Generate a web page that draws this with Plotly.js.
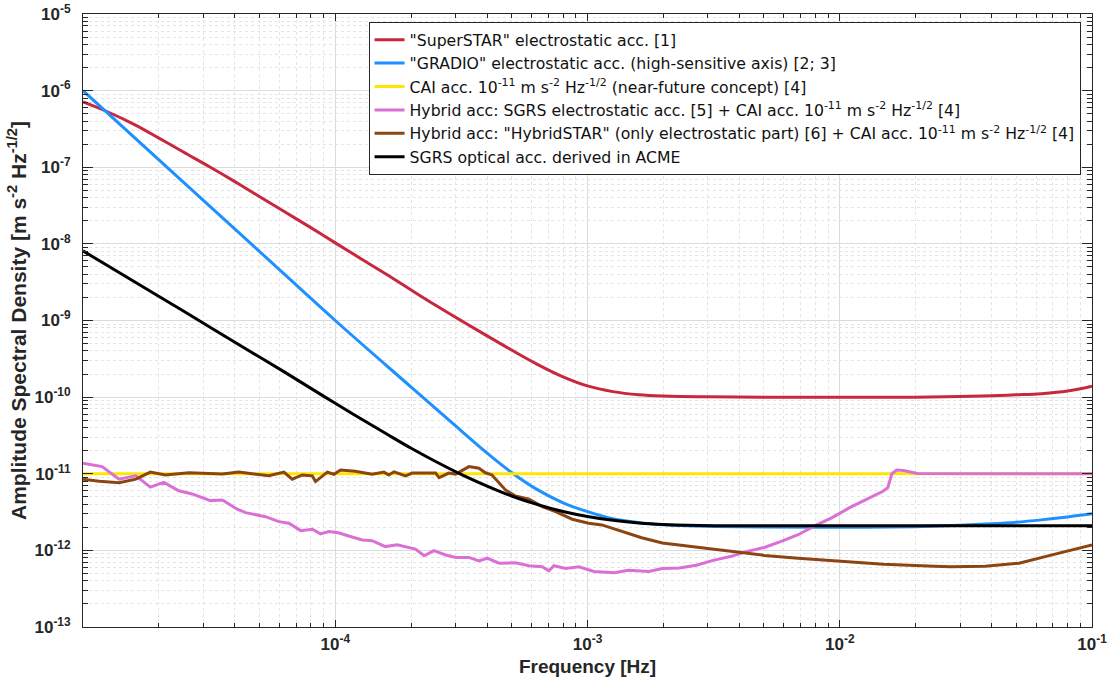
<!DOCTYPE html>
<html>
<head>
<meta charset="utf-8">
<script src="https://cdn.plot.ly/plotly-3.0.1.min.js"></script>
<style>html,body{margin:0;padding:0;background:#fff;}#chart{width:1113px;height:683px;}</style>
</head>
<body>
<div id="chart"></div>
<script>
// ---- Data ----
const freqSuperSTAR = [1e-5, 1.25e-5, 1.6e-5, 2e-5, 2.5e-5, 3.2e-5, 4e-5, 5e-5, 6.3e-5, 8e-5, 1e-4, 1.26e-4, 1.6e-4, 2e-4, 2.5e-4, 3.2e-4, 4e-4, 5e-4, 6.3e-4, 8e-4, 1e-3, 1.26e-3, 1.6e-3, 2e-3, 3e-3, 5e-3, 1e-2, 2e-2, 3e-2, 4e-2, 5e-2, 6.3e-2, 8e-2, 1e-1];
const asdSuperSTAR  = [7.1e-7, 5.3e-7, 3.6e-7, 2.4e-7, 1.58e-7, 1.0e-7, 6.5e-8, 4.16e-8, 2.62e-8, 1.63e-8, 1.03e-8, 6.45e-9, 3.98e-9, 2.5e-9, 1.58e-9, 9.7e-10, 6.3e-10, 4.12e-10, 2.7e-10, 1.84e-10, 1.4e-10, 1.18e-10, 1.075e-10, 1.035e-10, 1.01e-10, 1.0e-10, 1.0e-10, 1.0e-10, 1.02e-10, 1.04e-10, 1.07e-10, 1.11e-10, 1.2e-10, 1.39e-10];

const freqGRADIO = [1e-5, 2e-5, 5e-5, 1e-4, 2e-4, 3e-4, 4e-4, 5e-4, 6.3e-4, 8e-4, 1e-3, 1.26e-3, 1.6e-3, 2e-3, 2.5e-3, 3.2e-3, 5e-3, 1e-2, 2e-2, 3e-2, 4e-2, 5e-2, 6.3e-2, 8e-2, 1e-1];
const asdGRADIO  = [1.0e-6, 1.25e-7, 8.0e-9, 1.0e-9, 1.35e-10, 4.2e-11, 1.86e-11, 1.04e-11, 6.25e-12, 4.18e-12, 3.2e-12, 2.58e-12, 2.3e-12, 2.16e-12, 2.09e-12, 2.05e-12, 2.02e-12, 2.0e-12, 2.04e-12, 2.12e-12, 2.22e-12, 2.33e-12, 2.5e-12, 2.73e-12, 3.0e-12];

const freqCAI = [1e-5, 1e-1];
const asdCAI  = [1e-11, 1e-11];

const freqHybridSGRS = [1e-5, 1.19e-5, 1.39e-5, 1.62e-5, 1.85e-5, 2.09e-5, 2.40e-5, 2.71e-5, 3.20e-5, 3.57e-5, 4.09e-5, 4.41e-5, 5.29e-5, 5.98e-5, 6.55e-5, 7.29e-5, 8.11e-5, 8.74e-5, 9.44e-5, 1.03e-4, 1.13e-4, 1.28e-4, 1.40e-4, 1.58e-4, 1.76e-4, 2.08e-4, 2.25e-4, 2.46e-4, 2.74e-4, 3.00e-4, 3.39e-4, 3.71e-4, 4.00e-4, 4.46e-4, 5.18e-4, 5.86e-4, 6.61e-4, 7.03e-4, 7.36e-4, 8.18e-4, 9.25e-4, 1.01e-3, 1.06e-3, 1.28e-3, 1.45e-3, 1.75e-3, 1.98e-3, 2.31e-3, 2.70e-3, 3.15e-3, 3.68e-3, 4.30e-3, 5.02e-3, 5.86e-3, 6.84e-3, 7.99e-3, 9.33e-3, 1.09e-2, 1.27e-2, 1.49e-2, 1.55e-2, 1.61e-2, 1.68e-2, 1.79e-2, 2.03e-2, 3e-2, 5e-2, 1e-1];
const asdHybridSGRS  = [1.37e-11, 1.24e-11, 8.5e-12, 9.4e-12, 6.7e-12, 7.7e-12, 6.0e-12, 5.45e-12, 4.46e-12, 4.55e-12, 3.44e-12, 3.11e-12, 2.75e-12, 2.37e-12, 2.26e-12, 1.81e-12, 1.89e-12, 1.64e-12, 1.76e-12, 1.70e-12, 1.54e-12, 1.37e-12, 1.34e-12, 1.12e-12, 1.18e-12, 1.04e-12, 8.5e-13, 9.9e-13, 8.7e-13, 8.1e-13, 8.1e-13, 7.3e-13, 7.9e-13, 6.8e-13, 6.9e-13, 6.3e-13, 6.1e-13, 5.4e-13, 6.3e-13, 5.8e-13, 6.1e-13, 5.6e-13, 5.3e-13, 5.1e-13, 5.5e-13, 5.3e-13, 5.8e-13, 5.9e-13, 6.4e-13, 7.4e-13, 8.3e-13, 9.7e-13, 1.09e-12, 1.31e-12, 1.6e-12, 2.1e-12, 2.68e-12, 3.58e-12, 4.62e-12, 5.96e-12, 6.6e-12, 1.0e-11, 1.12e-11, 1.10e-11, 1.01e-11, 1.0e-11, 1.0e-11, 1.0e-11];

const freqHybridSTAR = [1e-5, 1.16e-5, 1.39e-5, 1.62e-5, 1.85e-5, 2.12e-5, 2.63e-5, 3.57e-5, 4.15e-5, 4.83e-5, 5.46e-5, 6.26e-5, 6.75e-5, 7.40e-5, 8.11e-5, 8.35e-5, 9.30e-5, 9.88e-5, 1.05e-4, 1.20e-4, 1.40e-4, 1.56e-4, 1.63e-4, 1.71e-4, 1.90e-4, 2.02e-4, 2.50e-4, 2.58e-4, 2.82e-4, 3.00e-4, 3.39e-4, 3.71e-4, 3.94e-4, 4.18e-4, 4.46e-4, 4.73e-4, 5.18e-4, 5.86e-4, 6.61e-4, 7.47e-4, 8.70e-4, 1.01e-3, 1.14e-3, 1.36e-3, 1.64e-3, 1.98e-3, 2.70e-3, 3.68e-3, 5.02e-3, 6.84e-3, 9.93e-3, 1.49e-2, 2.37e-2, 2.76e-2, 3.77e-2, 5.14e-2, 7.01e-2, 9.29e-2, 1e-1];
const asdHybridSTAR  = [8.5e-12, 8.0e-12, 7.65e-12, 8.5e-12, 1.05e-11, 9.65e-12, 1.03e-11, 9.9e-12, 1.05e-11, 9.9e-12, 9.4e-12, 1.05e-11, 8.5e-12, 9.65e-12, 9.4e-12, 7.9e-12, 1.05e-11, 9.85e-12, 1.12e-11, 1.08e-11, 9.85e-12, 1.05e-11, 9.65e-12, 1.06e-11, 9.4e-12, 1.02e-11, 1.02e-11, 8.9e-12, 1.02e-11, 9.9e-12, 1.24e-11, 1.18e-11, 1.03e-11, 9.65e-12, 7.5e-12, 6.15e-12, 5.13e-12, 4.65e-12, 3.72e-12, 3.2e-12, 2.55e-12, 2.26e-12, 2.15e-12, 1.78e-12, 1.46e-12, 1.25e-12, 1.1e-12, 9.8e-13, 8.6e-13, 7.9e-13, 7.2e-13, 6.6e-13, 6.2e-13, 6.1e-13, 6.2e-13, 6.8e-13, 8.8e-13, 1.12e-12, 1.18e-12];

const freqSGRSOptical = [1e-5, 1.6e-5, 2.5e-5, 4e-5, 6.3e-5, 1e-4, 1.6e-4, 2e-4, 2.5e-4, 3.2e-4, 4e-4, 5e-4, 6.3e-4, 8e-4, 1e-3, 1.26e-3, 1.6e-3, 2e-3, 2.5e-3, 3.2e-3, 5e-3, 1e-2, 3e-2, 1e-1];
const asdSGRSOptical  = [8.1e-9, 3.2e-9, 1.33e-9, 5.2e-10, 2.12e-10, 8.3e-11, 3.3e-11, 2.15e-11, 1.445e-11, 9.6e-12, 6.9e-12, 5.12e-12, 3.98e-12, 3.22e-12, 2.77e-12, 2.47e-12, 2.27e-12, 2.17e-12, 2.12e-12, 2.1e-12, 2.1e-12, 2.1e-12, 2.1e-12, 2.1e-12];

const seriesNames = [
  '"SuperSTAR" electrostatic acc. [1]',
  '"GRADIO" electrostatic acc. (high-sensitive axis) [2; 3]',
  'CAI acc. 10<sup>-11</sup> m s<sup>-2</sup> Hz<sup>-1/2</sup> (near-future concept) [4]',
  'Hybrid acc: SGRS electrostatic acc. [5] + CAI acc. 10<sup>-11</sup> m s<sup>-2</sup> Hz<sup>-1/2</sup> [4]',
  'Hybrid acc: "HybridSTAR" (only electrostatic part) [6] + CAI acc. 10<sup>-11</sup> m s<sup>-2</sup> Hz<sup>-1/2</sup> [4]',
  'SGRS optical acc. derived in ACME'
];
const seriesColors = ['#C8283E', '#1E90FF', '#FFE600', '#DA70D6', '#8B4513', '#000000'];

const xTickVals = [1e-4, 1e-3, 1e-2, 1e-1];
const xTickText = ['10<sup>-4</sup>', '10<sup>-3</sup>', '10<sup>-2</sup>', '10<sup>-1</sup>'];
const yTickVals = [1e-13, 1e-12, 1e-11, 1e-10, 1e-9, 1e-8, 1e-7, 1e-6, 1e-5];
const yTickText = ['10<sup>-13</sup>', '10<sup>-12</sup>', '10<sup>-11</sup>', '10<sup>-10</sup>', '10<sup>-9</sup>', '10<sup>-8</sup>', '10<sup>-7</sup>', '10<sup>-6</sup>', '10<sup>-5</sup>'];

// minor tick positions (2..9 in each decade)
function minorTicks(d0, d1) {
  const out = [];
  for (let d = d0; d < d1; d++) for (let k = 2; k <= 9; k++) out.push(k * Math.pow(10, d));
  return out;
}

const xs = [freqSuperSTAR, freqGRADIO, freqCAI, freqHybridSGRS, freqHybridSTAR, freqSGRSOptical];
const ys = [asdSuperSTAR, asdGRADIO, asdCAI, asdHybridSGRS, asdHybridSTAR, asdSGRSOptical];
const smooth = [true, true, false, false, false, true];

const traces = xs.map((x, i) => ({
  x: x, y: ys[i], type: 'scatter', mode: 'lines', name: seriesNames[i],
  line: {color: seriesColors[i], width: 3, shape: smooth[i] ? 'spline' : 'linear', smoothing: 1}
}));

const fontFam = 'Liberation Sans, Arial, Helvetica, sans-serif';
const axisCommon = {
  type: 'log', showline: true, linecolor: '#262626', linewidth: 1, mirror: 'ticks',
  ticks: 'inside', tickcolor: '#262626', tickwidth: 1,
  showgrid: true, gridcolor: '#dcdcdc', gridwidth: 1, zeroline: false,
  tickfont: {family: fontFam, size: 17, color: '#262626', weight: 'bold'}
};

const layout = {
  width: 1113, height: 683,
  margin: {l: 83, r: 21, t: 14, b: 56},
  paper_bgcolor: '#ffffff', plot_bgcolor: '#ffffff',
  showlegend: true,
  xaxis: Object.assign({}, axisCommon, {
    range: [-5, -1], tickmode: 'array', tickvals: xTickVals, ticktext: xTickText, ticklen: 7,
    ticklabelstandoff: 2,
    minor: {tickmode: 'array', tickvals: minorTicks(-5, -1), ticks: 'inside', ticklen: 4, tickcolor: '#262626',
            showgrid: true, gridcolor: '#e4e4e4', griddash: 'dot', gridwidth: 1},
    title: {text: 'Frequency [Hz]', font: {family: fontFam, size: 19, color: '#262626', weight: 'bold'}, standoff: 6}
  }),
  yaxis: Object.assign({}, axisCommon, {
    range: [-13, -5], tickmode: 'array', tickvals: yTickVals, ticktext: yTickText, ticklen: 10,
    ticklabelstandoff: 8,
    minor: {tickmode: 'array', tickvals: minorTicks(-13, -5), ticks: 'inside', ticklen: 5, tickcolor: '#262626',
            showgrid: true, gridcolor: '#e4e4e4', griddash: 'dot', gridwidth: 1},
    title: {text: 'Amplitude Spectral Density [m s<sup>-2</sup> Hz<sup>-1/2</sup>]', font: {family: fontFam, size: 21, color: '#262626', weight: 'bold'}, standoff: 2}
  }),
  legend: {
    x: 0.283, y: 0.987, xanchor: 'left', yanchor: 'top',
    bgcolor: '#ffffff', bordercolor: '#262626', borderwidth: 1,
    font: {family: 'DejaVu Sans, Liberation Sans, Arial, sans-serif', size: 15.7, color: '#111111'},
    tracegroupgap: 0, itemwidth: 30
  }
};

Plotly.newPlot('chart', traces, layout, {staticPlot: true, displayModeBar: false});
</script>
</body>
</html>
